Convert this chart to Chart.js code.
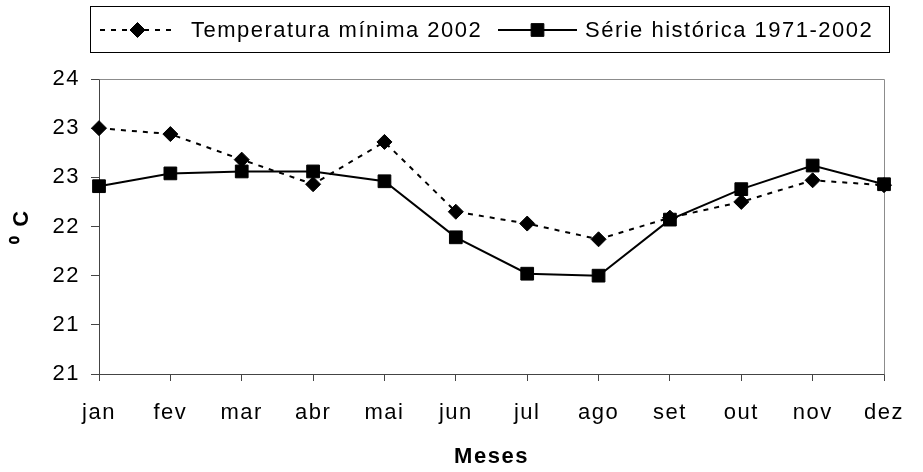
<!DOCTYPE html>
<html>
<head>
<meta charset="utf-8">
<script src="https://cdn.jsdelivr.net/npm/chart.js@4"></script>
<style>
  html, body { margin: 0; padding: 0; background: #fff; }
  #c { display: block; }
</style>
</head>
<body>
<canvas id="c" width="923" height="472"></canvas>
<script>
// ---- data ----
const months = ['jan', 'fev', 'mar', 'abr', 'mai', 'jun', 'jul', 'ago', 'set', 'out', 'nov', 'dez'];
const tempMin2002 = [23.00, 22.94, 22.68, 22.43, 22.86, 22.15, 22.03, 21.87, 22.09, 22.25, 22.47, 22.42];
const serieHistorica = [22.41, 22.54, 22.56, 22.56, 22.46, 21.89, 21.52, 21.50, 22.07, 22.38, 22.62, 22.43];
const yTickLabels = ['21', '21', '22', '22', '23', '23', '24'];
const seriesNames = ['Temperatura mínima 2002', 'Série histórica 1971-2002'];
const xTitle = 'Meses';
const yTitle = '\u2070 C';

const FONT = '"Liberation Sans", Arial, sans-serif';
const SPACING = '1.5px';
const FS = 22;

const spacingPlugin = {
  id: 'spacing',
  beforeLayout(chart) { chart.ctx.letterSpacing = SPACING; },
  beforeDraw(chart) { chart.ctx.letterSpacing = SPACING; }
};

const framePlugin = {
  id: 'frame',
  beforeDatasetsDraw(chart) {
    const { ctx, chartArea: a } = chart;
    ctx.save();
    ctx.strokeStyle = '#8c8c8c';
    ctx.lineWidth = 1;
    ctx.beginPath();
    ctx.moveTo(Math.round(a.left) + 0.5, Math.round(a.top) + 0.5);
    ctx.lineTo(Math.round(a.right) + 0.5, Math.round(a.top) + 0.5);
    ctx.lineTo(Math.round(a.right) + 0.5, Math.round(a.bottom) + 0.5);
    ctx.stroke();
    ctx.restore();
  }
};

const legendPlugin = {
  id: 'excelLegend',
  afterDraw(chart) {
    const ctx = chart.ctx;
    const ds = chart.data.datasets;
    ctx.save();
    ctx.letterSpacing = SPACING;
    ctx.strokeStyle = '#000';
    ctx.lineWidth = 1;
    ctx.strokeRect(90.5, 6.5, 799, 46);
    const cy = 30;
    const items = [
      { x0: 100, x1: 175, tx: 191 },
      { x0: 498, x1: 577, tx: 585 }
    ];
    items.forEach((it, i) => {
      const d = ds[i];
      ctx.save();
      ctx.strokeStyle = d.borderColor;
      ctx.lineWidth = d.borderWidth;
      ctx.setLineDash(d.borderDash || []);
      ctx.beginPath();
      ctx.moveTo(it.x0, cy);
      ctx.lineTo(it.x1, cy);
      ctx.stroke();
      ctx.restore();
      Chart.helpers.drawPoint(ctx, {
        pointStyle: d.pointStyle, radius: d.pointRadius, rotation: 0, borderWidth: 1
      }, (it.x0 + it.x1) / 2, cy);
      ctx.fillStyle = '#000';
      ctx.font = FS + 'px ' + FONT;
      ctx.textBaseline = 'middle';
      ctx.textAlign = 'left';
      ctx.fillText(d.label, it.tx, cy + 1);
    });
    ctx.restore();
  }
};

Chart.defaults.font.family = FONT;
Chart.defaults.color = '#000';

new Chart(document.getElementById('c'), {
  type: 'line',
  data: {
    labels: months,
    datasets: [
      {
        label: seriesNames[0],
        data: tempMin2002,
        borderColor: '#000',
        backgroundColor: '#000',
        borderWidth: 2,
        borderDash: [5, 6],
        pointStyle: 'rectRot',
        pointRadius: 7.5,
        pointBorderWidth: 1,
        pointBackgroundColor: '#000',
        pointBorderColor: '#000',
        tension: 0,
        fill: false
      },
      {
        label: seriesNames[1],
        data: serieHistorica,
        borderColor: '#000',
        backgroundColor: '#000',
        borderWidth: 2,
        pointStyle: 'rect',
        pointRadius: 9,
        pointBorderWidth: 1,
        pointBackgroundColor: '#000',
        pointBorderColor: '#000',
        tension: 0,
        fill: false
      }
    ]
  },
  options: {
    responsive: false,
    animation: false,
    devicePixelRatio: 1,
    layout: { padding: { top: 79, right: 32, bottom: 0, left: 0 } },
    plugins: {
      legend: { display: false },
      tooltip: { enabled: false }
    },
    scales: {
      x: {
        type: 'category',
        offset: false,
        grid: { display: true, drawOnChartArea: false, drawTicks: true, tickLength: 7, color: '#444' },
        border: { display: true, color: '#444', width: 1 },
        ticks: { font: { size: FS }, color: '#000', padding: 19, maxRotation: 0, autoSkip: false },
        title: { display: true, text: xTitle, font: { size: FS, weight: 'bold' }, color: '#000', padding: { top: 0, bottom: 2 } },
        afterFit(s) { s.height = 98; }
      },
      y: {
        min: 20.5,
        max: 23.5,
        grid: { display: true, drawOnChartArea: false, drawTicks: true, tickLength: 8, color: '#444' },
        border: { display: true, color: '#444', width: 1 },
        ticks: {
          stepSize: 0.5,
          font: { size: FS },
          color: '#000',
          padding: 11,
          callback: (v, i) => yTickLabels[i]
        },
        title: { display: true, text: yTitle, font: { size: FS, weight: 'bold' }, color: '#000', padding: { top: 9, bottom: 0 } },
        afterFit(s) { s.width = 99; }
      }
    }
  },
  plugins: [spacingPlugin, framePlugin, legendPlugin]
});
</script>
</body>
</html>
